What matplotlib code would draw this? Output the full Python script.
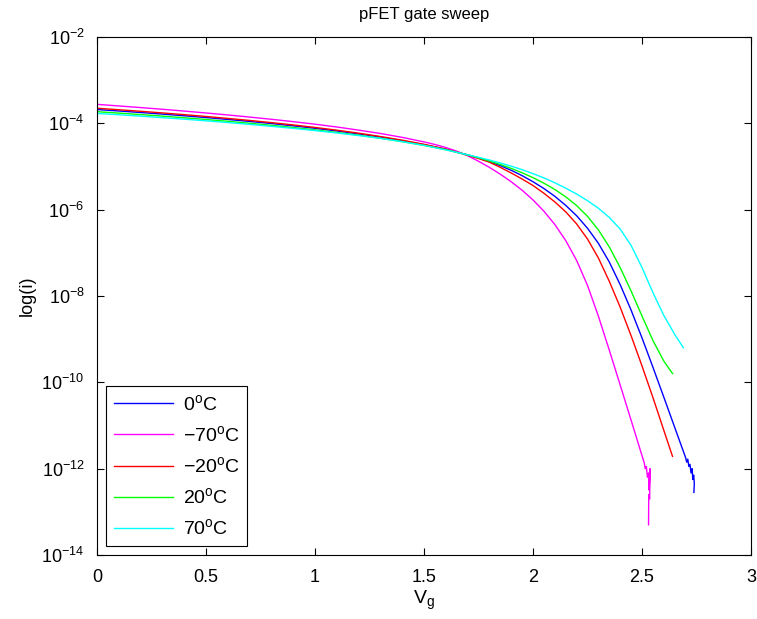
import numpy as np
import matplotlib
matplotlib.use("Agg")
import matplotlib.pyplot as plt
from matplotlib.ticker import LogLocator, NullLocator, LogFormatterSciNotation

plt.rcParams['font.family'] = ['Liberation Sans', 'DejaVu Sans']
plt.rcParams['mathtext.fontset'] = 'custom'
plt.rcParams['mathtext.rm'] = 'Liberation Sans'
plt.rcParams['mathtext.it'] = 'Liberation Sans:italic'

# ---- data (Vg in volts, log10 of drain current) ----
vg_early = [0, 0.1, 0.2, 0.3, 0.4, 0.5, 0.6, 0.7, 0.8, 0.9, 1.0, 1.1, 1.2, 1.3,
            1.4, 1.5, 1.6]

# 0 C
vg_0C = vg_early + [1.7, 1.75, 1.8, 1.85, 1.9, 1.95, 2.0, 2.05, 2.1, 2.15, 2.2,
                    2.25, 2.3, 2.35, 2.4, 2.45, 2.5, 2.55, 2.6, 2.65, 2.7, 2.705,
                    2.71, 2.715, 2.72, 2.725, 2.73, 2.733, 2.737, 2.74, 2.738]
logi_0C = [-3.68, -3.714, -3.749, -3.786, -3.825, -3.866, -3.91, -3.956, -4.005,
           -4.058, -4.115, -4.177, -4.245, -4.32, -4.403, -4.495, -4.598,
           -4.73, -4.804, -4.886, -4.98, -5.088, -5.212, -5.353, -5.51, -5.69,
           -5.9, -6.14, -6.43, -6.78, -7.213, -7.738, -8.328, -8.97, -9.648,
           -10.343, -11.043, -11.743, -11.85, -11.78, -11.95, -11.9, -12.1, -12.0,
           -12.25, -12.15, -12.35, -12.55]

# -70 C
vg_m70C = vg_early[:15] + [1.5, 1.55, 1.6, 1.65, 1.7, 1.75, 1.8, 1.85, 1.9, 1.95,
                           2.0, 2.05, 2.1, 2.15, 2.2, 2.25, 2.3, 2.35, 2.4, 2.45,
                           2.5, 2.51, 2.515, 2.52, 2.525, 2.53, 2.533, 2.537,
                           2.535, 2.531, 2.53]
logi_m70C = [-3.56, -3.597, -3.635, -3.674, -3.716, -3.76, -3.806, -3.855, -3.906,
             -3.961, -4.02, -4.085, -4.157, -4.235, -4.325,
             -4.43, -4.49, -4.56, -4.645, -4.75, -4.878, -5.02, -5.178, -5.353,
             -5.55, -5.775, -6.035, -6.343, -6.715, -7.175, -7.755, -8.468,
             -9.255, -10.063, -10.878, -11.698, -11.86, -12.0, -11.95, -12.2,
             -12.1, -12.5, -12.0, -12.7, -12.6, -13.3]

# -20 C
vg_m20C = vg_early + [1.7, 1.75, 1.8, 1.85, 1.9, 1.95, 2.0, 2.05, 2.1, 2.15, 2.2,
                      2.25, 2.3, 2.35, 2.4, 2.45, 2.5, 2.55, 2.6, 2.64]
logi_m20C = [-3.65, -3.685, -3.721, -3.759, -3.799, -3.841, -3.886, -3.933, -3.983,
             -4.037, -4.095, -4.158, -4.228, -4.305, -4.39, -4.485, -4.598,
             -4.74, -4.815, -4.90, -5.02, -5.15, -5.29, -5.44, -5.62, -5.82,
             -6.05, -6.33, -6.68, -7.12, -7.66, -8.26, -8.92, -9.62, -10.35,
             -11.11, -11.715]

# 20 C
vg_20C = vg_early + [1.7, 1.75, 1.8, 1.85, 1.9, 1.95, 2.0, 2.05, 2.1, 2.15, 2.2,
                     2.25, 2.3, 2.35, 2.4, 2.45, 2.5, 2.55, 2.6, 2.64]
logi_20C = [-3.73, -3.763, -3.797, -3.833, -3.871, -3.911, -3.953, -3.998, -4.046,
            -4.097, -4.152, -4.211, -4.275, -4.345, -4.423, -4.51, -4.61,
            -4.73, -4.798, -4.872, -4.954, -5.044, -5.145, -5.258, -5.386, -5.532,
            -5.702, -5.904, -6.154, -6.469, -6.864, -7.342, -7.884, -8.464,
            -9.029, -9.507, -9.797]

# 70 C
vg_70C = vg_early + [1.7, 1.75, 1.8, 1.85, 1.9, 1.95, 2.0, 2.05, 2.1, 2.15, 2.2,
                     2.25, 2.3, 2.35, 2.4, 2.45, 2.5, 2.55, 2.6, 2.65, 2.69]
logi_70C = [-3.77, -3.801, -3.834, -3.868, -3.904, -3.942, -3.982, -4.024, -4.069,
            -4.117, -4.168, -4.223, -4.283, -4.348, -4.425, -4.51, -4.615,
            -4.73, -4.788, -4.85, -4.918, -4.992, -5.074, -5.165, -5.265, -5.377,
            -5.501, -5.638, -5.792, -5.967, -6.18, -6.45, -6.83, -7.34,
            -7.92, -8.45, -8.89, -9.2]

labels = ['0$^{\\rm o}$C', '\u221270$^{\\rm o}$C', '\u221220$^{\\rm o}$C',
          '20$^{\\rm o}$C', '70$^{\\rm o}$C']
colors = ['#0000ff', '#ff00ff', '#ff0000', '#00ff00', '#00ffff']
series = [(vg_0C, logi_0C), (vg_m70C, logi_m70C), (vg_m20C, logi_m20C),
          (vg_20C, logi_20C), (vg_70C, logi_70C)]

fig = plt.figure(figsize=(7.57, 6.19), dpi=100)
ax = fig.add_axes([97/757, 1 - 555/619, (751-97)/757, (555-37)/619])

for (vg, li), lab, c in zip(series, labels, colors):
    ax.plot(vg, 10.0 ** np.array(li), color=c, lw=1.0, label=lab)

ax.set_yscale('log')
ax.set_xlim(0, 3)
ax.set_ylim(1e-14, 1e-2)
ax.set_xticks([0, 0.5, 1, 1.5, 2, 2.5, 3])
ax.set_xticklabels(['0', '0.5', '1', '1.5', '2', '2.5', '3'])
ax.yaxis.set_major_locator(LogLocator(base=100.0))
ax.yaxis.set_major_formatter(LogFormatterSciNotation(base=10))
ax.yaxis.set_minor_locator(NullLocator())
ax.tick_params(direction='in', top=True, right=True, length=5, width=0.8,
               labelsize=13, colors='black')
ax.tick_params(axis='x', pad=10)
ax.tick_params(axis='y', pad=9)
for s in ax.spines.values():
    s.set_linewidth(0.8)

ax.set_title('pFET gate sweep', fontsize=12, pad=13)
ax.set_xlabel('V$_{\\rm g}$', fontsize=14, labelpad=2)
ax.set_ylabel('log(i)', fontsize=13, labelpad=4)

leg = ax.legend(loc='lower left', fontsize=14, frameon=True, fancybox=False,
                edgecolor='black', framealpha=1, handlelength=3.05,
                labelspacing=0.57, borderaxespad=0.45, handletextpad=0.5)
leg.get_frame().set_linewidth(0.8)

fig.savefig('out.png', dpi=100, facecolor='white')
